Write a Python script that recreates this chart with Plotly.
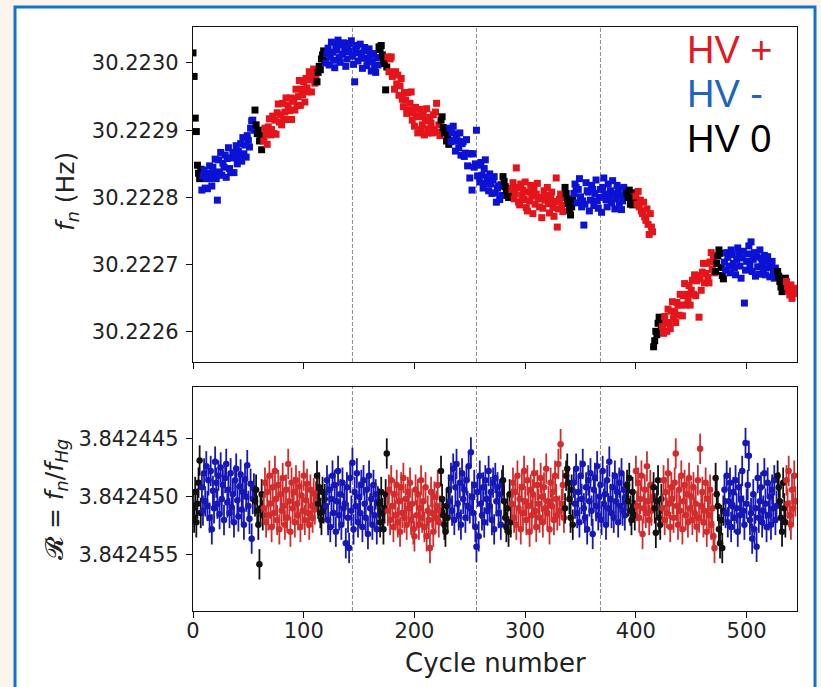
import plotly.graph_objects as go

# ---------------- data ----------------
# HV state segments (in cycle order) and their lengths in cycles
SEG_STATES = ['0', '-', '0', '+', '0', '-', '0', '+', '0', '-', '0', '+',
              '0', '-', '0', '+', '0', '+', '0', '-', '0', '+']
SEG_LENGTHS = [8, 48, 8, 48, 8, 48, 8, 48, 8, 48, 8, 48,
               8, 48, 8, 16, 8, 48, 8, 48, 8, 9]

# f_n offsets from 30.222000 Hz, in micro-Hz (one value per cycle)
FN_UHZ = [
    1015, 980, 918, 898, 848, 836, 828, 842,
    811, 832, 841, 814, 828, 813, 836, 847, 828, 817, 845, 837, 857, 828, 796, 856,
    838, 867, 833, 851, 845, 863, 830, 858, 874, 843, 837, 859, 867, 837, 859, 877,
    850, 869, 860, 880, 854, 889, 865, 878, 860, 892, 885, 875, 903, 914, 915, 900,
    930, 908, 895, 900, 884, 888, 871, 892,
    884, 903, 894, 879, 905, 917, 893, 901, 921, 895, 915, 894, 926, 939, 912, 923,
    908, 940, 916, 927, 948, 916, 937, 929, 948, 916, 947, 943, 930, 961, 937, 950,
    974, 937, 961, 953, 972, 942, 977, 963, 957, 987, 975, 957, 981, 991, 970, 981,
    972, 986, 995, 990, 1006, 1012, 1018, 1003,
    1000, 1014, 1022, 997, 1009, 1031, 1016, 1004, 993, 1025, 1019, 1034, 1008, 1001, 1027, 1013,
    1030, 1021, 995, 1006, 1024, 1017, 1029, 1033, 1010, 998, 972, 1020, 1026, 1003, 1015, 1028,
    1011, 992, 1007, 1023, 1018, 996, 1005, 1021, 1012, 988, 1002, 1014, 994, 986, 1008, 997,
    1024, 1020, 1026, 1012, 1004, 999, 960, 994,
    1009, 987, 1006, 1009, 980, 986, 961, 987, 969, 982, 952, 966, 977, 946, 935, 956,
    945, 925, 956, 930, 940, 957, 915, 926, 906, 934, 921, 896, 920, 931, 901, 908,
    923, 893, 914, 932, 902, 896, 919, 910, 896, 923, 901, 927, 940, 897, 908, 892,
    915, 920, 904, 896, 899, 884, 891, 879,
    903, 883, 896, 906, 885, 869, 894, 884, 874, 896, 863, 880, 883, 861, 866, 886,
    847, 865, 829, 865, 811, 865, 845, 850, 900, 832, 848, 823, 852, 833, 814, 843,
    856, 821, 830, 810, 835, 820, 806, 826, 831, 807, 793, 814, 817, 797, 819, 803,
    831, 824, 816, 811, 803, 800, 813, 806,
    812, 822, 798, 806, 844, 815, 793, 789, 820, 803, 811, 797, 823, 785, 780, 808,
    795, 818, 802, 776, 812, 790, 805, 821, 798, 786, 800, 770, 784, 810, 796, 803,
    815, 791, 777, 799, 808, 785, 772, 794, 829, 756, 783, 797, 805, 788, 779, 800,
    815, 806, 798, 791, 781, 774, 786, 796,
    806, 820, 815, 792, 812, 828, 801, 786, 795, 759, 790, 822, 810, 808, 780, 796,
    818, 812, 788, 806, 826, 795, 784, 800, 812, 778, 815, 829, 805, 797, 786, 820,
    801, 810, 792, 825, 806, 783, 798, 818, 812, 790, 804, 782, 795, 815, 802, 808,
    806, 800, 811, 790, 798, 789, 793, 807,
    802, 790, 809, 786, 796, 780, 776, 793, 771, 766, 783, 760, 745, 776, 756, 749,
    578, 587, 601, 596, 613, 622, 616, 606,
    608, 598, 623, 613, 601, 634, 614, 605, 631, 645, 620, 630, 614, 644, 640, 625,
    656, 640, 624, 654, 672, 640, 656, 648, 669, 640, 662, 677, 656, 685, 654, 676,
    684, 622, 679, 662, 689, 702, 673, 687, 702, 681, 673, 704, 718, 693, 710, 688,
    690, 702, 713, 722, 717, 696, 684, 679,
    704, 692, 718, 711, 698, 688, 722, 715, 702, 695, 685, 708, 725, 716, 698, 680,
    710, 720, 643, 692, 705, 716, 728, 700, 734, 690, 708, 718, 683, 712, 697, 686,
    722, 710, 702, 693, 714, 685, 706, 712, 696, 682, 700, 705, 690, 680, 695, 688,
    690, 683, 675, 667, 660, 671, 664, 680,
    675, 667, 661, 655, 670, 650, 663, 657, 665,
]

# R offsets from 3.842450, in units of 1e-7 (one value per cycle)
R_E7 = [
    10, 18, -4, 22, 6, -12, -31, 14,
    -8, 12, -20, 4, -26, 8, -14, 18, -22, 28, -5, 10, -30, -12, 6, -18,
    15, -25, 2, -10, 20, -16, -28, 5, -6, 14, -20, 9, -2, 22, -14, -24,
    3, 17, -9, -19, 11, -4, 24, -15, 0, -27, 8, 19, -11, 36, 2, -7,
    4, -6, 12, 24, 58, 10, -2, 16,
    10, -12, 22, -4, 16, -18, 6, 26, -8, 14, -22, 2, 20, -10, 28, -2,
    12, -16, 8, 24, -6, 18, -28, 4, 30, -12, 10, -4, 22, -14, 6, 16,
    -9, 26, -1, 12, -18, 20, 3, -11, 14, 24, -6, 8, 18, -3, 11, 0,
    -18, 6, -8, 14, 20, -4, 10, 2,
    8, -14, 20, -6, 26, 2, -18, 14, -10, 30, 4, -22, 16, -2, 24, -12,
    10, 6, 40, -8, 18, 44, -16, 12, -29, 28, -4, 8, -20, 22, 0, 14,
    -10, 26, -14, 6, 18, -6, 32, -18, 10, 2, 24, -10, 16, -2, 28, 4,
    6, 22, -4, 14, 28, 10, -2, -37,
    12, -6, 20, -14, 8, 26, -2, 16, -10, 22, 4, 30, -8, 14, -16, 18,
    2, 24, -4, 10, -12, 20, 6, 28, 34, -6, 16, -2, 24, 10, -14, 18,
    4, 26, -8, 34, 12, 20, 44, -4, 14, 30, 0, 18, 8, -10, 22, 12,
    -22, 2, 16, 24, 30, 8, 18, -6,
    4, -16, 12, -24, 20, -8, -28, 6, 16, -12, 24, -20, 2, -6, 18, -14,
    8, -26, 10, -38, 0, 14, -10, 26, 43, -4, 34, -18, 6, 16, -8, 22,
    -14, 2, 12, -22, 8, -4, 20, -12, 28, -16, 4, -8, 14, -2, 24, -10,
    -14, 4, 18, 26, 10, 30, -2, 22,
    6, -12, 18, -4, 24, -18, 10, 2, 28, -8, 14, -22, 4, 20, -14, 8,
    30, -6, 16, -2, -20, 12, 26, -10, 6, 18, -16, 0, 22, -8, 10, -24,
    14, 4, 28, -12, 8, -4, 20, -18, 2, 16, -28, 12, -45, 6, -10, 18,
    10, -18, -24, -12, 2, 18, -6, 24,
    -12, 6, -24, 14, -4, 22, -18, 2, -28, 10, 18, -8, 28, -14, 4, -20,
    12, 32, -6, -16, 8, -26, 16, 0, -10, 20, -22, 6, -2, 24, -14, 10,
    -30, 2, 14, -8, 18, -18, 4, -4, 22, -12, 8, -20, 12, -6, 16, 0,
    -10, 4, -16, 12, 20, -4, 8, 16,
    -22, 8, -12, 18, 2, -18, 32, 10, -6, 14, -26, 4, 20, -10, 12, 0,
    -8, 10, 31, 4, -14, 18, 24, 2,
    10, -14, 20, -4, 14, -20, 6, 26, -8, 2, 18, -12, -37, 8, 24, -6,
    12, -18, 28, 4, -10, 16, -2, 22, -16, 10, 0, 20, -8, 14, 6, 26,
    -14, 18, -41, 8, -4, 22, 12, -12, 30, 2, 16, -6, 24, 10, 34, 44,
    -16, -2, 8, 28, 40, 20, 44, 12,
    -6, 14, -18, 22, 4, -12, 26, 8, -4, 18, -14, 10, 30, -8, 16, 2,
    -22, 12, 24, -46, 6, -10, -35, 20, 14, 36, -2, 28, 10, 43, -16, 18,
    4, -8, 22, 12, -20, 6, 26, -12, 16, 0, 24, -6, 10, -14, 20, 8,
    -18, -8, 4, 18, 30, -12, 10, 22,
    -14, 6, -22, 16, 24, -6, 10, -18, 4,
]
R_ERR_E7 = 13          # error bar half-length, units of 1e-7

FN_BASE = 30.222
R_BASE = 3.842450

FN_TICKS = [30.2226, 30.2227, 30.2228, 30.2229, 30.2230]
R_TICKS = [3.842445, 3.842450, 3.842455]
X_TICKS = [0, 100, 200, 300, 400, 500]
DASHED_CYCLES = [144, 256, 368]

LEGEND_TEXT = ['HV +', 'HV -', 'HV 0']

# ---------------- styles ----------------
TOP_COL = {'+': '#e5141b', '-': '#0c12d4', '0': '#000000'}
BOT_COL = {'+': '#d22c2c', '-': '#1717b5', '0': '#111111'}
LEG_COL = ['#e01923', '#1e64be', '#000000']
TICK_FONT = dict(family='DejaVu Sans', size=21, color='#222222')

fig = go.Figure()

start = 0
for st, n in zip(SEG_STATES, SEG_LENGTHS):
    cyc = list(range(start, start + n))
    fn = [FN_BASE + v * 1e-6 for v in FN_UHZ[start:start + n]]
    rr = [R_BASE + v * 1e-7 for v in R_E7[start:start + n]]
    fig.add_trace(go.Scatter(
        x=cyc, y=fn, mode='markers', showlegend=False, xaxis='x', yaxis='y',
        marker=dict(symbol='square', size=7, color=TOP_COL[st], line=dict(width=0)),
        hoverinfo='skip'))
    fig.add_trace(go.Scatter(
        x=cyc, y=rr, mode='markers', showlegend=False, xaxis='x2', yaxis='y2',
        marker=dict(symbol='circle', size=6.5, color=BOT_COL[st], line=dict(width=0)),
        error_y=dict(type='constant', value=R_ERR_E7 * 1e-7, thickness=1.8, width=0,
                     color=BOT_COL[st]),
        hoverinfo='skip'))
    start += n

axis_common = dict(showgrid=False, zeroline=False, showline=True, linecolor='#111111',
                   linewidth=1.3, mirror=True, ticks='outside', ticklen=6, tickwidth=1.2,
                   tickcolor='#111111', tickfont=TICK_FONT)

fig.update_layout(
    width=821, height=687,
    margin=dict(l=193, r=24, t=27, b=76),
    paper_bgcolor='#fdf5eb', plot_bgcolor='white',
    xaxis=dict(domain=[0, 1], range=[0, 545.5], tickvals=X_TICKS, showticklabels=False,
               anchor='y', **axis_common),
    yaxis=dict(domain=[0.4264, 1], range=[30.2225554, 30.2230535], tickvals=FN_TICKS,
               ticktext=[f'{t:.4f}' for t in FN_TICKS], anchor='x',
               ticklabelstandoff=3, **axis_common),
    xaxis2=dict(domain=[0, 1], range=[0, 545.5], tickvals=X_TICKS,
                ticktext=[str(t) for t in X_TICKS], anchor='y2',
                ticklabelstandoff=-5, **axis_common),
    yaxis2=dict(domain=[0, 0.3836], range=[3.8424598, 3.8424406], tickvals=R_TICKS,
                ticktext=[f'{t:.6f}' for t in R_TICKS], anchor='x2',
                ticklabelstandoff=3, **axis_common),
)

shapes = [dict(type='rect', xref='paper', yref='paper', x0=-0.2947, x1=1.0298,
               y0=-0.16, y1=1.0342, fillcolor='white',
               line=dict(color='#1473c8', width=3), layer='below')]
for c in DASHED_CYCLES:
    for xr, yr in (('x', 'y domain'), ('x2', 'y2 domain')):
        shapes.append(dict(type='line', xref=xr, yref=yr, x0=c, x1=c, y0=0, y1=1,
                           line=dict(color='#8c8c8c', width=1, dash='4px,2px'),
                           layer='below'))
fig.update_layout(shapes=shapes)

ann = []
leg_y = [0.9606, 0.8853, 0.8082]
for txt, col, yy in zip(LEGEND_TEXT, LEG_COL, leg_y):
    ann.append(dict(text=txt, xref='paper', yref='paper', x=0.8146, y=yy,
                    xanchor='left', yanchor='middle', showarrow=False,
                    font=dict(family='Liberation Sans', size=38, color=col)))
ann.append(dict(text='<i>f</i><sub><i>n</i></sub> (Hz)', xref='paper', yref='paper',
                x=-0.2086, y=0.7175, xanchor='center', yanchor='middle', textangle=-90,
                showarrow=False, font=dict(family='DejaVu Sans', size=25, color='#222222')))
ann.append(dict(text='𝓡 = <i>f</i><sub><i>n</i></sub>/<i>f</i><sub><i>Hg</i></sub>',
                xref='paper', yref='paper',
                x=-0.2268, y=0.190, xanchor='center', yanchor='middle', textangle=-90,
                showarrow=False, font=dict(family='DejaVu Sans', size=25, color='#222222')))
ann.append(dict(text='Cycle number', xref='paper', yref='paper', x=0.5, y=-0.089,
                xanchor='center', yanchor='middle', showarrow=False,
                font=dict(family='DejaVu Sans', size=26, color='#222222')))
fig.update_layout(annotations=ann)

fig.write_html('out.html', config={'displayModeBar': False},
               post_script="document.body.style.margin='0px';")
